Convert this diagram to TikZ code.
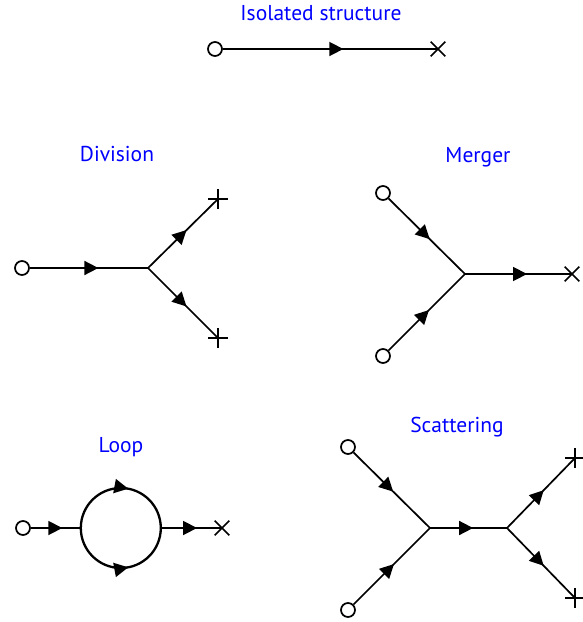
\documentclass[tikz,border=0pt]{standalone}
\usepackage{fontspec}
\setmainfont{PT Sans}
\usetikzlibrary{arrows.meta,decorations.markings,shapes.misc}
\begin{document}
\begin{tikzpicture}[x=1pt,y=1pt,
 ln/.style={line width=1.7pt},
 loopline/.style={line width=2.3pt},
 ma/.style={postaction={decorate},decoration={markings,mark=at position #1 with {\arrow{Triangle[length=14pt,width=14pt]}}}},
 src/.style={circle,draw,line width=1.7pt,minimum size=14pt,inner sep=0pt},
 snk/.style={cross out,draw,line width=1.7pt,minimum size=13pt,inner sep=0pt},
 plusmk/.style={minimum size=20pt,inner sep=0pt,path picture={\draw[line width=1.7pt] (path picture bounding box.north) -- (path picture bounding box.south) (path picture bounding box.west) -- (path picture bounding box.east);}},
 lbl/.style={text=blue,font=\fontsize{21.5}{26}\selectfont,anchor=base},
]
\useasboundingbox (0,0) rectangle (583,-622);
% Isolated structure
\node[lbl] (tIso) at (321,-20) {Isolated structure};
\node[src] (iA) at (215,-49) {};
\node[snk] (iB) at (438,-49) {};
\draw[ln,ma=0.56] (iA) -- (iB.center);
% Division
\node[lbl] (tDiv) at (117,-161) {Division};
\node[src] (dA) at (22,-268) {};
\coordinate (dJ) at (148,-268);
\node[plusmk] (dB) at (218,-199) {};
\node[plusmk] (dC) at (218,-338) {};
\draw[ln,ma=0.58] (dA) -- (dJ);
\draw[ln,ma=0.55] (dJ) -- (dB.center);
\draw[ln,ma=0.55] (dJ) -- (dC.center);
% Merger
\node[lbl] (tMer) at (478,-162) {Merger};
\node[src] (mA) at (383,-193) {};
\node[src] (mB) at (383,-356) {};
\coordinate (mJ) at (465,-274);
\node[snk] (mC) at (572,-274) {};
\draw[ln,ma=0.54] (mA) -- (mJ);
\draw[ln,ma=0.53] (mB) -- (mJ);
\draw[ln,ma=0.58] (mJ) -- (mC.center);
% Loop
\node[lbl] (tLoop) at (121,-452) {Loop};
\node[src] (lA) at (23,-528) {};
\node[circle,minimum size=80pt,inner sep=0pt] (lO) at (121,-528) {};
\node[snk] (lB) at (222,-528) {};
\draw[ln,ma=0.63] (lA) -- (lO.west);
\draw[ln,ma=0.59] (lO.east) -- (lB.center);
\draw[loopline,ma=0.56] (lO.west) arc[start angle=180,end angle=0,radius=40pt];
\draw[loopline,ma=0.56] (lO.west) arc[start angle=180,end angle=360,radius=40pt];
% Scattering
\node[lbl] (tSca) at (457,-432) {Scattering};
\node[src] (sA) at (348,-447) {};
\node[src] (sB) at (348,-610) {};
\coordinate (sJ1) at (430,-528);
\coordinate (sJ2) at (507,-528);
\node[plusmk] (sC) at (575,-458) {};
\node[plusmk] (sD) at (575,-598) {};
\draw[ln,ma=0.52] (sA) -- (sJ1);
\draw[ln,ma=0.53] (sB) -- (sJ1);
\draw[ln,ma=0.56] (sJ1) -- (sJ2);
\draw[ln,ma=0.54] (sJ2) -- (sC.center);
\draw[ln,ma=0.54] (sJ2) -- (sD.center);
\end{tikzpicture}
\end{document}
